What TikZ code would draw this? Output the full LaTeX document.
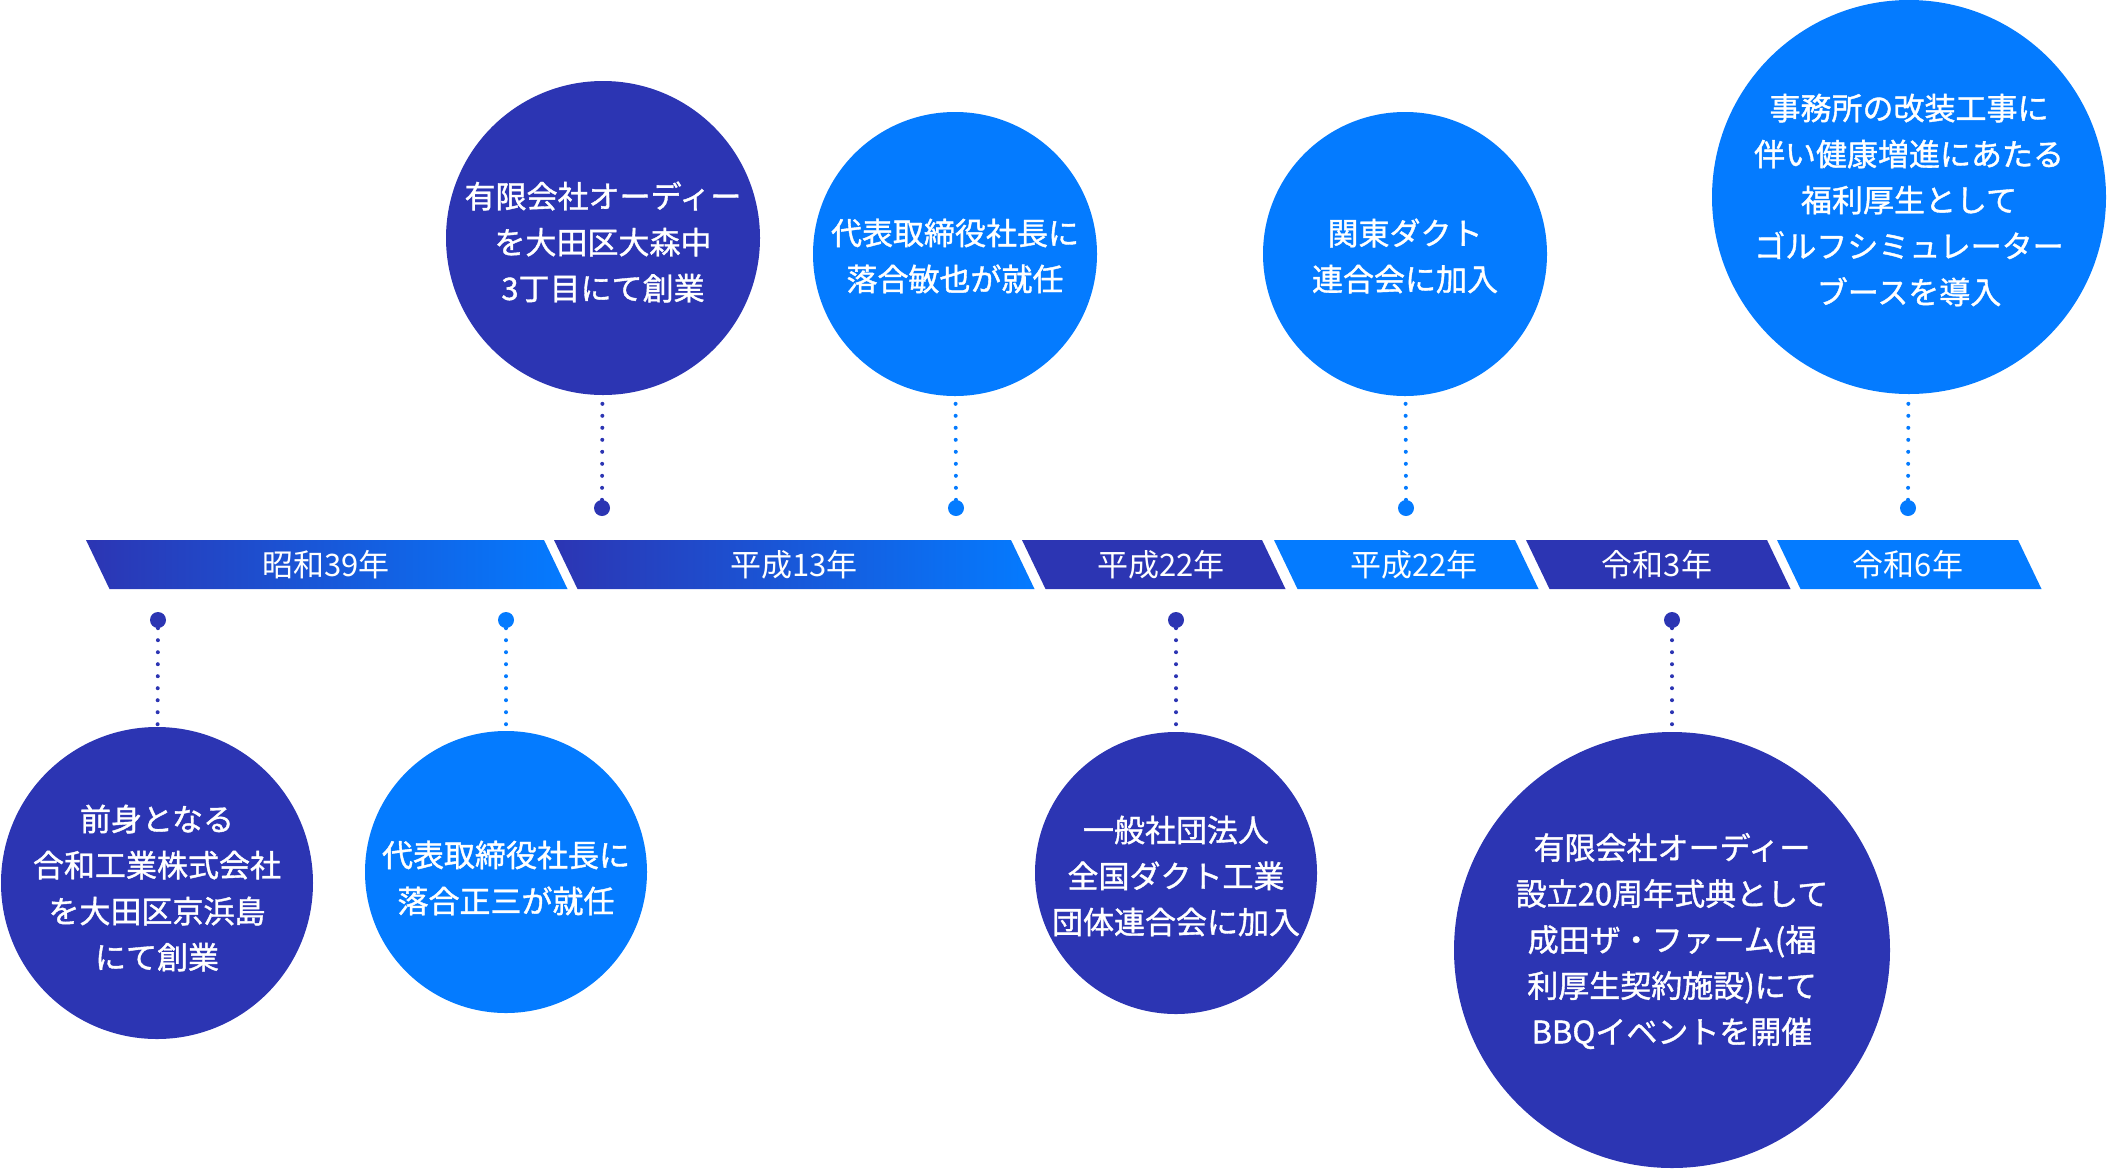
\documentclass[tikz,border=0pt]{standalone}
\usepackage{fontspec}
\newfontfamily\jpfont{Noto Sans CJK JP}
\newfontfamily\jpmedium[FakeBold=1.2]{Noto Sans CJK JP}
\usetikzlibrary{positioning}
\definecolor{odnavy}{RGB}{44,53,179}
\definecolor{odblue}{RGB}{4,123,255}
\tikzset{
  evdark/.style={circle, fill=odnavy, inner sep=0pt},
  evblue/.style={evdark, fill=odblue},
  evtext/.style={text=white, align=center, inner sep=0pt,
    font=\jpmedium\fontsize{31}{46}\selectfont},
  pindark/.style={circle, fill=odnavy, minimum size=16pt, inner sep=0pt},
  pinblue/.style={pindark, fill=odblue},
  linkdark/.style={draw=odnavy, line width=4pt, line cap=round, dash pattern=on 0pt off 12pt},
  linkblue/.style={linkdark, draw=odblue},
  yearlabel/.style={text=white, inner sep=0pt, font=\jpfont\fontsize{31}{36}\selectfont},
}

\begin{document}
\begin{tikzpicture}[x=1pt, y=-1pt]
\useasboundingbox (0,0) rectangle (2108,1168);

% year band
\shade[left color=odnavy, right color=odblue] (86,540) -- (544,540) -- (567.5,589) -- (109.5,589) -- cycle;
\shade[left color=odnavy, right color=odblue] (554,540) -- (1011,540) -- (1034.5,589) -- (577.5,589) -- cycle;
\fill[odnavy] (1022,540) -- (1262,540) -- (1285.5,589) -- (1045.5,589) -- cycle;
\fill[odblue] (1274,540) -- (1515,540) -- (1538.5,589) -- (1297.5,589) -- cycle;
\fill[odnavy] (1526,540) -- (1767,540) -- (1790.5,589) -- (1549.5,589) -- cycle;
\fill[odblue] (1777,540) -- (2018,540) -- (2041.5,589) -- (1800.5,589) -- cycle;
\node[yearlabel] (y1) at (326,564.5) {昭和39年};
\node[yearlabel] (y2) at (794,564.5) {平成13年};
\node[yearlabel] (y3) at (1161,564.5) {平成22年};
\node[yearlabel] (y4) at (1414,564.5) {平成22年};
\node[yearlabel] (y5) at (1657,564.5) {令和3年};
\node[yearlabel] (y6) at (1908,564.5) {令和6年};

% events above the band
\node[evdark, minimum size=314pt] (cA) at (603,238) {};
\node[evblue, minimum size=284pt] (cD) at (955,254) {};
\node[evblue, minimum size=284pt] (cE) at (1405,254) {};
\node[evblue, minimum size=394pt] (cF) at (1909,197) {};
\node[evtext] (tA) at (603,242) {有限会社オーディー\\を大田区大森中\\3丁目にて創業};
\node[evtext] (tD) at (955,256) {代表取締役社長に\\落合敏也が就任};
\node[evtext] (tE) at (1405,256) {関東ダクト\\連合会に加入};
\node[evtext] (tF) at (1909,200) {事務所の改装工事に\\伴い健康増進にあたる\\福利厚生として\\ゴルフシミュレーター\\ブースを導入};
\node[pindark] (dA) at (602,508) {};
\node[pinblue] (dD) at (956,508) {};
\node[pinblue] (dE) at (1406,508) {};
\node[pinblue] (dF) at (1908,508) {};
\draw[linkdark] (dA) -- (cA);
\draw[linkblue] (dD) -- (cD);
\draw[linkblue] (dE) -- (cE);
\draw[linkblue] (dF) -- (cF);

% events below the band
\node[evdark, minimum size=312pt] (cB) at (157,883) {};
\node[evblue, minimum size=282pt] (cC) at (506,872) {};
\node[evdark, minimum size=282pt] (cG) at (1176,873) {};
\node[evdark, minimum size=436pt] (cH) at (1672,950) {};
\node[evtext] (tB) at (157,888) {前身となる\\合和工業株式会社\\を大田区京浜島\\にて創業};
\node[evtext] (tC) at (506,878) {代表取締役社長に\\落合正三が就任};
\node[evtext] (tG) at (1176,876) {一般社団法人\\全国ダクト工業\\団体連合会に加入};
\node[evtext] (tH) at (1672,941) {有限会社オーディー\\設立20周年式典として\\成田ザ・ファーム(福\\利厚生契約施設)にて\\BBQイベントを開催};
\node[pindark] (dB) at (158,620) {};
\node[pinblue] (dC) at (506,620) {};
\node[pindark] (dG) at (1176,620) {};
\node[pindark] (dH) at (1672,620) {};
\draw[linkdark] (dB) -- (cB);
\draw[linkblue] (dC) -- (cC);
\draw[linkdark] (dG) -- (cG);
\draw[linkdark] (dH) -- (cH);
\end{tikzpicture}
\end{document}
